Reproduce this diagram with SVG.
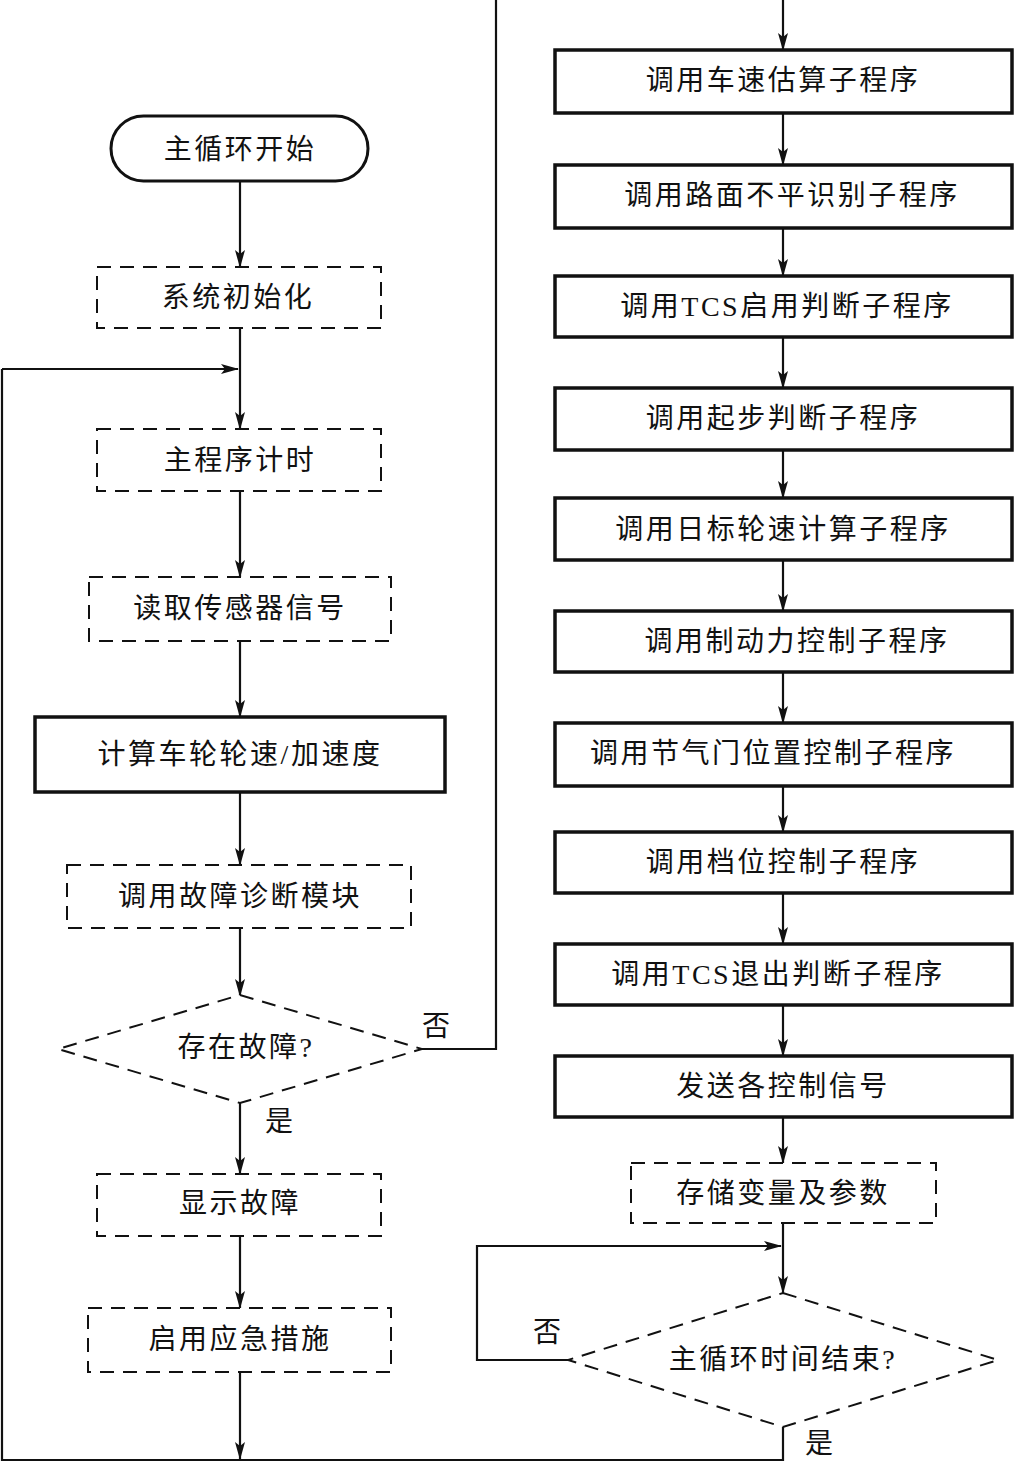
<svg xmlns="http://www.w3.org/2000/svg" width="1016" height="1462" viewBox="0 0 1016 1462">
<style>
text{font-family:"Liberation Serif","Noto Sans CJK SC",serif;font-size:28px;fill:#111;text-anchor:middle;dominant-baseline:central;letter-spacing:2.5px}
.solid{fill:#fff;stroke:#111;stroke-width:3.5}
.dash{fill:#fff;stroke:#111;stroke-width:2;stroke-dasharray:14 9}
.ln{fill:none;stroke:#111;stroke-width:2.2}
.lbl{letter-spacing:0}
.lat{letter-spacing:0}
</style>
<defs>
<marker id="ah" markerUnits="userSpaceOnUse" markerWidth="18" markerHeight="10" refX="17" refY="5" orient="auto">
<path d="M0,0 L18,5 L0,10 L4,5 z" fill="#111"/>
</marker>
</defs>
<rect width="1016" height="1462" fill="#fff"/>

<g id="connectors">
<line class="ln" x1="240" y1="181" x2="240" y2="267" marker-end="url(#ah)"/>
<line class="ln" x1="240" y1="328" x2="240" y2="429" marker-end="url(#ah)"/>
<line class="ln" x1="2" y1="369" x2="238" y2="369" marker-end="url(#ah)"/>
<line class="ln" x1="240" y1="491" x2="240" y2="577" marker-end="url(#ah)"/>
<line class="ln" x1="240" y1="641" x2="240" y2="717" marker-end="url(#ah)"/>
<line class="ln" x1="240" y1="792" x2="240" y2="865" marker-end="url(#ah)"/>
<line class="ln" x1="240" y1="928" x2="240" y2="996" marker-end="url(#ah)"/>
<polyline class="ln" points="422,1049 496,1049 496,0"/>
<line class="ln" x1="240" y1="1103" x2="240" y2="1174" marker-end="url(#ah)"/>
<line class="ln" x1="240" y1="1236" x2="240" y2="1308" marker-end="url(#ah)"/>
<line class="ln" x1="240" y1="1372" x2="240" y2="1459" marker-end="url(#ah)"/>
<polyline class="ln" points="783,1427 783,1460 2,1460 2,369"/>
<line class="ln" x1="783" y1="0" x2="783" y2="50" marker-end="url(#ah)"/>
<line class="ln" x1="783" y1="113" x2="783" y2="165" marker-end="url(#ah)"/>
<line class="ln" x1="783" y1="228" x2="783" y2="276" marker-end="url(#ah)"/>
<line class="ln" x1="783" y1="337" x2="783" y2="388" marker-end="url(#ah)"/>
<line class="ln" x1="783" y1="450" x2="783" y2="498" marker-end="url(#ah)"/>
<line class="ln" x1="783" y1="560" x2="783" y2="611" marker-end="url(#ah)"/>
<line class="ln" x1="783" y1="672" x2="783" y2="723" marker-end="url(#ah)"/>
<line class="ln" x1="783" y1="786" x2="783" y2="832" marker-end="url(#ah)"/>
<line class="ln" x1="783" y1="893" x2="783" y2="944" marker-end="url(#ah)"/>
<line class="ln" x1="783" y1="1005" x2="783" y2="1056" marker-end="url(#ah)"/>
<line class="ln" x1="783" y1="1117" x2="783" y2="1163" marker-end="url(#ah)"/>
<line class="ln" x1="783" y1="1223" x2="783" y2="1293" marker-end="url(#ah)"/>
<polyline class="ln" points="568,1360 477,1360 477,1246 781,1246" marker-end="url(#ah)"/>
</g>

<g id="n-start"><rect x="111" y="116" width="257" height="65" rx="32.5" class="solid" style="stroke-width:3"/><text x="240" y="149">主循环开始</text></g>
<g id="n-init"><rect x="97" y="267" width="284" height="61" class="dash"/><text x="238" y="297">系统初始化</text></g>
<g id="n-timer"><rect x="97" y="429" width="284" height="62" class="dash"/><text x="240" y="460">主程序计时</text></g>
<g id="n-read"><rect x="89" y="577" width="302" height="64" class="dash"/><text x="240" y="608">读取传感器信号</text></g>
<g id="n-calc"><rect x="35" y="717" width="410" height="75" class="solid"/><text x="240" y="754">计算车轮轮速/加速度</text></g>
<g id="n-diag"><rect x="67" y="865" width="344" height="63" class="dash"/><text x="240" y="896">调用故障诊断模块</text></g>
<g id="n-fault"><polygon points="240,995 422,1049 240,1103 58,1049" class="dash"/><text x="246" y="1047">存在故障?</text></g>
<text class="lbl" x="436" y="1026">否</text>
<text class="lbl" x="279" y="1121">是</text>
<g id="n-show"><rect x="97" y="1174" width="284" height="62" class="dash"/><text x="240" y="1203">显示故障</text></g>
<g id="n-emerg"><rect x="88" y="1308" width="303" height="64" class="dash"/><text x="240" y="1339">启用应急措施</text></g>

<g id="n-r1"><rect x="555" y="50" width="457" height="63" class="solid"/><text x="783" y="80">调用车速估算子程序</text></g>
<g id="n-r2"><rect x="555" y="165" width="457" height="63" class="solid"/><text x="792" y="195">调用路面不平识别子程序</text></g>
<g id="n-r3"><rect x="555" y="276" width="457" height="61" class="solid"/><text x="787" y="306">调用TCS启用判断子程序</text></g>
<g id="n-r4"><rect x="555" y="388" width="457" height="62" class="solid"/><text x="783" y="418">调用起步判断子程序</text></g>
<g id="n-r5"><rect x="555" y="498" width="457" height="62" class="solid"/><text x="783" y="529">调用日标轮速计算子程序</text></g>
<g id="n-r6"><rect x="555" y="611" width="457" height="61" class="solid"/><text x="797" y="641">调用制动力控制子程序</text></g>
<g id="n-r7"><rect x="555" y="723" width="457" height="63" class="solid"/><text x="773" y="753">调用节气门位置控制子程序</text></g>
<g id="n-r8"><rect x="555" y="832" width="457" height="61" class="solid"/><text x="783" y="862">调用档位控制子程序</text></g>
<g id="n-r9"><rect x="555" y="944" width="457" height="61" class="solid"/><text x="778" y="974">调用TCS退出判断子程序</text></g>
<g id="n-r10"><rect x="555" y="1056" width="457" height="61" class="solid"/><text x="783" y="1086">发送各控制信号</text></g>
<g id="n-store"><rect x="631" y="1163" width="305" height="60" class="dash"/><text x="783" y="1193">存储变量及参数</text></g>
<g id="n-end"><polygon points="783,1293 998,1360 783,1427 568,1360" class="dash"/><text x="783" y="1359">主循环时间结束?</text></g>
<text class="lbl" x="547" y="1332">否</text>
<text class="lbl" x="819" y="1443">是</text>
</svg>
